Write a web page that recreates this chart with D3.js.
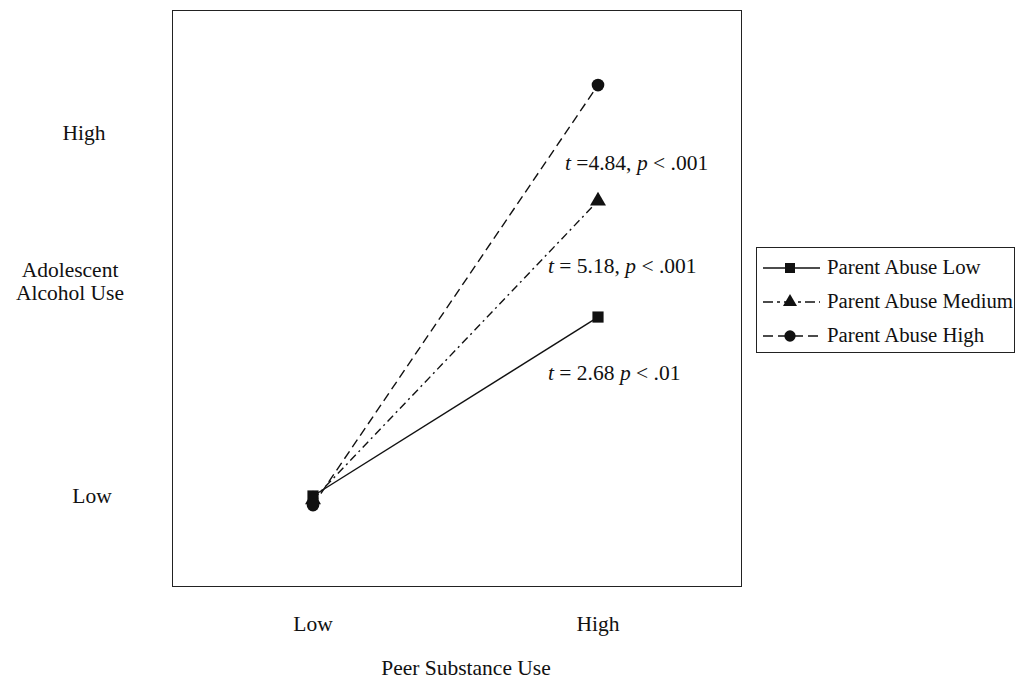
<!DOCTYPE html>
<meta charset="utf-8" />
<style>
  body { margin: 0; background: #fff; }
  text { font-family: "Liberation Serif", "Times New Roman", serif; fill: #111; }
</style>
<svg width="1017" height="682"></svg>
<script src="https://d3js.org/d3.v7.min.js"></script>
<script>
  // data
  var xLevels = ["Low", "High"];
  var yTickLabels = ["Low", "High"];
  var seriesNames = ["Parent Abuse Low", "Parent Abuse Medium", "Parent Abuse High"];
  var lowAbuse = [0, 0.493];
  var mediumAbuse = [-0.01, 0.813];
  var highAbuse = [-0.025, 1.132];
  var tests = ["2.68 ", "5.18, ", "=4.84, "];
  var pValues = ["< .01", "< .001", "< .001"];

  var series = [
    { name: seriesNames[0], values: lowAbuse, dash: null, legDash: null, shape: d3.symbolSquare },
    { name: seriesNames[1], values: mediumAbuse, dash: "8,4,2,4", legDash: "10,4,3,4", shape: d3.symbolTriangle },
    { name: seriesNames[2], values: highAbuse, dash: "9,5", legDash: "10,5", shape: d3.symbolCircle }
  ];

  var svg = d3.select("svg");
  var box = { left: 172, top: 10, right: 741, bottom: 586 };

  var x = d3.scalePoint().domain(xLevels).range([313, 598]);
  var y = d3.scaleLinear().domain([0, 1]).range([496, 133]);

  svg.append("rect")
    .attr("x", box.left + 0.5).attr("y", box.top + 0.5)
    .attr("width", box.right - box.left).attr("height", box.bottom - box.top)
    .attr("fill", "none").attr("stroke", "#222").attr("stroke-width", 1);

  var line = d3.line()
    .x(function (d, i) { return x(xLevels[i]); })
    .y(function (d) { return y(d); });

  series.slice().reverse().forEach(function (s) {
    svg.append("path")
      .attr("d", line(s.values))
      .attr("fill", "none")
      .attr("stroke", "#111")
      .attr("stroke-width", 1.4)
      .attr("stroke-dasharray", s.dash);
  });

  series.forEach(function (s) {
    svg.selectAll(null).data(s.values).enter().append("path")
      .attr("d", d3.symbol().type(s.shape).size(s.shape === d3.symbolTriangle ? 110 : 125))
      .attr("transform", function (d, i) { return "translate(" + x(xLevels[i]) + "," + y(d) + ")"; })
      .attr("fill", "#111");
  });

  // t-test annotations
  var annX = [548, 548, 565];
  var annY = [380, 273, 170];
  series.forEach(function (s, i) {
    var t = svg.append("text")
      .attr("x", annX[i]).attr("y", annY[i])
      .attr("font-size", 21.5);
    t.append("tspan").attr("font-style", "italic").text("t");
    t.append("tspan").text(i === 2 ? " " + tests[i] : " = " + tests[i]);
    t.append("tspan").attr("font-style", "italic").text("p");
    t.append("tspan").text(" " + pValues[i]);
  });

  // y axis labels
  var yLabX = [92, 84];
  yTickLabels.forEach(function (lab, i) {
    svg.append("text")
      .attr("x", yLabX[i]).attr("y", y(i) + 7)
      .attr("text-anchor", "middle").attr("font-size", 21.5)
      .text(lab);
  });
  svg.append("text")
    .attr("x", 70).attr("y", 277)
    .attr("text-anchor", "middle").attr("font-size", 21.5)
    .text("Adolescent");
  svg.append("text")
    .attr("x", 70).attr("y", 300)
    .attr("text-anchor", "middle").attr("font-size", 21.5)
    .text("Alcohol Use");

  // x axis labels
  xLevels.forEach(function (lab) {
    svg.append("text")
      .attr("x", x(lab)).attr("y", 631)
      .attr("text-anchor", "middle").attr("font-size", 21.5)
      .text(lab);
  });
  svg.append("text")
    .attr("x", 466).attr("y", 675)
    .attr("text-anchor", "middle").attr("font-size", 21.5)
    .text("Peer Substance Use");

  // legend
  var lg = svg.append("g");
  lg.append("rect")
    .attr("x", 756.5).attr("y", 247.5)
    .attr("width", 258).attr("height", 105)
    .attr("fill", "#fff").attr("stroke", "#222");
  series.forEach(function (s, i) {
    var ly = 268 + i * 34;
    lg.append("line")
      .attr("x1", 763).attr("x2", 820).attr("y1", ly).attr("y2", ly)
      .attr("stroke", "#111").attr("stroke-width", 1.4)
      .attr("stroke-dasharray", s.legDash);
    lg.append("path")
      .attr("d", d3.symbol().type(s.shape).size(s.shape === d3.symbolTriangle ? 85 : 100))
      .attr("transform", "translate(790," + ly + ")")
      .attr("fill", "#111");
    lg.append("text")
      .attr("x", 827).attr("y", ly + 6)
      .attr("font-size", 20.8)
      .text(s.name);
  });
</script>
